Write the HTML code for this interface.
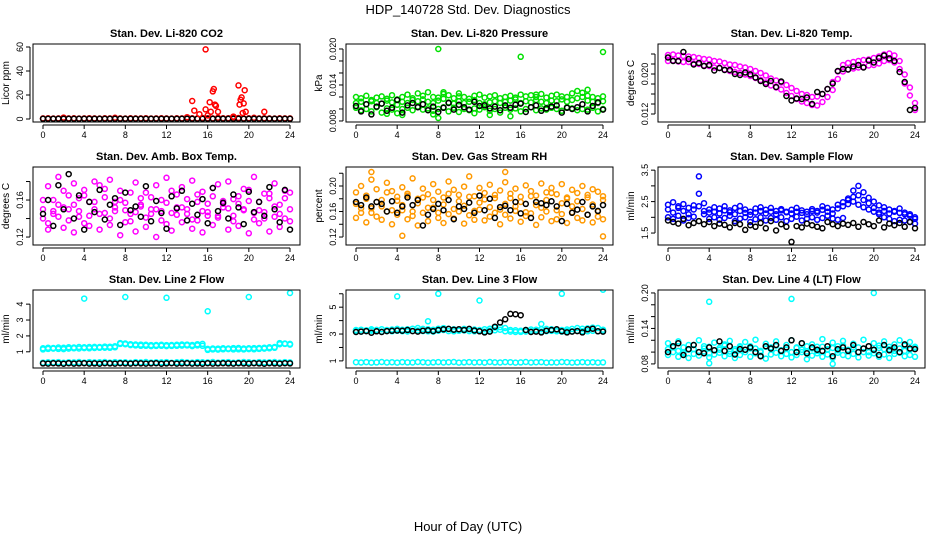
<!DOCTYPE html>
<html><head><meta charset="utf-8"><style>
html,body{margin:0;padding:0;background:#fff;width:936px;height:540px;overflow:hidden}
svg text{font-family:"Liberation Sans",sans-serif}
</style></head><body>
<svg id="chart" width="936" height="540" viewBox="0 0 936 540" xmlns="http://www.w3.org/2000/svg">
<text x="468" y="14" font-size="13" text-anchor="middle">HDP_140728  Std. Dev. Diagnostics</text>
<text x="468" y="531" font-size="13" text-anchor="middle">Hour of Day (UTC)</text>
</svg>
<script>
// ---- data (values at half-hour steps, 0..24 h) ----
const xTicks = [0,4,8,12,16,20,24];
// CO2 (ppm)
const co2Red = [0.5,0.6,0.4,0.5,1.2,0.5,0.6,0.4,0.5,0.7,0.5,0.4,0.6,0.5,1.0,0.5,0.4,0.6,0.5,0.5,0.7,0.4,0.5,0.6,0.5,0.4,0.6,0.5,1.5,0.6,0.5,0.8,0.6,0.5,1.0,0.6,0.7,1.2,0.8,0.5,0.6,1.0,0.5,0.6,0.5,0.4,0.6,0.5,0.5];
const co2Black = [0.2,0.2,0.2,0.2,0.2,0.2,0.2,0.2,0.2,0.2,0.2,0.2,0.2,0.2,0.2,0.2,0.2,0.2,0.2,0.2,0.2,0.2,0.2,0.2,0.2,0.2,0.2,0.2,0.2,0.2,0.2,0.2,0.2,0.2,0.2,0.2,0.2,0.2,0.2,0.2,0.2,0.2,0.2,0.2,0.2,0.2,0.2,0.2,0.2];
const co2SpikeX = [14.5,14.7,15.2,15.8,15.8,16.2,16.3,16.5,16.6,16.7,16.8,17.0,19.0,19.1,19.2,19.3,19.4,19.5,19.6,19.7,21.5,18.5,16.0];
const co2SpikeY = [15,7,4,58,8,14,6,23,25,12,11,6,28,12,16,18,5,13,24,6,6,2,3];
// Pressure (x1e-3 kPa)
const presA = [11.0,11.2,10.8,11.3,11.0,10.9,11.4,11.1,10.7,11.2,11.0,11.5,11.3,11.6,11.2,11.0,11.4,11.7,11.1,10.9,11.3,11.0,11.2,11.5,11.0,10.8,11.1,11.3,11.0,11.2,11.4,11.6,11.0,11.3,11.1,11.5,11.2,11.0,11.4,11.3,11.6,11.2,11.5,11.8,12.0,11.4,11.2,11.0,11.3];
const presB = [10.2,9.8,10.0,9.6,10.3,9.4,10.1,9.9,9.3,10.0,10.2,9.8,10.4,9.9,10.1,9.7,10.0,10.3,9.6,10.2,9.5,10.0,9.8,10.1,9.9,10.3,9.7,10.0,9.4,10.2,9.9,10.1,9.6,10.0,10.3,9.8,10.1,9.9,10.2,10.0,9.7,10.3,10.1,9.8,10.0,9.9,10.2,9.6,10.0];
const presC = [12.0,11.8,12.2,11.5,11.9,12.1,11.7,12.3,11.6,12.0,12.4,11.8,12.6,12.2,12.8,12.0,11.9,12.5,12.3,11.8,12.1,12.0,11.7,12.2,12.4,11.9,12.1,12.3,11.8,12.0,12.2,11.9,12.4,12.1,12.3,12.0,12.5,11.9,12.2,12.4,12.1,12.0,12.6,13.0,12.7,12.2,12.0,11.8,12.1];
const presK = [10.5,9.6,10.8,9.1,10.4,10.9,9.7,10.2,11.5,9.4,10.6,11.0,10.3,10.8,9.8,10.4,9.5,10.2,11.0,9.9,10.7,10.3,9.9,11.2,10.5,10.6,10.1,10.4,9.8,10.6,10.2,10.7,10.9,9.5,10.3,10.6,9.7,10.1,10.4,10.6,9.4,10.2,10.0,10.3,10.8,9.6,10.5,11.1,9.9];
const presOutX = [8,16,24,4.5,8,13,15,11.5,3,7.5,8.5,10,17.5,22.5];
const presOutY = [20.0,18.7,19.5,9.0,8.5,9.0,8.8,9.3,9.2,9.1,12.8,12.6,12.4,13.2];
// Li-820 temp (x1e-3 C)
const tempA = [23.8,23.9,23.7,23.6,23.5,23.4,23.2,23.0,22.9,22.6,22.5,22.2,21.9,21.8,21.5,21.3,21.0,20.6,20.2,19.7,19.1,18.7,18.3,17.8,17.2,16.6,16.0,15.8,15.4,15.5,16.0,17.0,18.4,20.5,21.8,22.2,22.4,22.6,22.8,22.9,23.2,23.5,23.9,24.1,23.7,22.6,19.9,17.3,14.2];
const tempB = [22.6,22.7,22.5,22.4,22.4,22.1,22.0,21.7,21.6,21.3,21.2,20.9,20.6,20.4,20.2,19.9,19.6,19.2,18.8,18.3,17.7,17.3,16.9,16.2,15.6,15.0,14.5,14.2,13.8,13.7,14.4,15.4,16.8,19.0,20.5,20.9,21.1,21.3,21.4,21.7,21.8,22.1,22.6,22.8,22.3,21.0,18.1,15.7,12.8];
const tempK = [23.3,22.6,22.6,24.4,23.0,21.9,22.2,21.6,21.8,20.7,21.2,20.8,20.8,20.0,19.8,20.3,19.9,19.3,18.6,18.0,18.6,17.4,18.5,15.6,14.7,15.1,15.0,15.3,14.0,16.4,16.0,17.0,18.1,20.6,21.0,20.9,21.5,21.8,21.3,22.7,22.3,23.2,23.7,23.1,22.6,20.4,18.4,12.8,13.2];
// Amb box temp (x1e-3 C)
const ambA = [150,135,160,142,170,138,155,148,165,132,158,145,172,140,152,160,136,168,147,155,141,163,150,138,157,170,144,152,161,139,166,148,156,173,143,159,151,137,164,149,171,146,158,140,167,153,145,162,150];
const ambB = [140,128,145,155,130,150,125,162,135,143,180,128,146,133,158,122,149,137,126,153,131,145,120,148,134,127,152,136,145,129,138,125,147,133,141,156,128,143,132,150,124,139,135,147,126,142,131,140,137];
const ambC = [160,175,148,185,152,165,178,142,171,158,150,176,163,182,148,170,157,145,179,162,168,150,176,160,184,146,166,174,150,181,158,169,143,164,177,152,180,161,156,172,159,185,149,167,162,178,155,170,168];
const ambK = [145,160,132,176,150,188,140,165,128,158,147,171,139,155,162,133,168,149,153,142,175,137,159,146,129,164,151,170,138,156,144,161,135,173,148,157,140,166,152,134,169,147,158,143,174,150,136,171,128];
// Gas stream RH (x1e-3 percent)
const rhA = [172,165,180,158,175,168,190,162,177,170,185,160,173,182,166,178,158,171,188,164,176,169,183,161,174,179,167,186,163,172,181,168,175,159,184,170,166,178,189,162,173,180,168,176,164,182,171,160,178];
const rhB = [150,158,143,165,152,147,160,140,155,162,148,153,138,158,145,166,150,142,156,149,160,141,154,147,163,146,152,158,140,155,149,161,144,153,157,139,151,160,145,148,156,142,159,150,146,155,143,152,148];
const rhC = [190,200,185,210,195,178,205,192,183,198,188,212,180,196,187,203,191,182,207,194,186,199,215,184,197,189,202,181,193,206,188,196,183,201,192,185,204,190,197,187,203,182,194,189,200,186,195,191,184];
const rhK = [175,170,182,168,175,172,160,176,158,168,182,170,178,138,155,164,172,162,178,148,168,164,174,158,185,162,180,150,167,169,162,175,157,172,150,175,173,170,176,168,145,172,158,163,175,155,168,161,170];
const rhOutX = [4.5,24,1.5,14.5];
const rhOutY = [122,121,222,222];
// Sample flow (x0.01 ml/min)
const sfA = [225,215,230,220,210,225,235,220,215,218,212,222,216,210,220,214,208,215,220,212,218,210,222,216,212,218,214,210,220,215,224,218,212,228,235,242,250,240,232,225,218,215,220,212,218,214,210,205,200];
const sfB = [200,195,205,190,198,202,275,210,195,200,192,198,205,188,196,200,185,194,200,190,198,192,200,188,195,202,190,196,200,192,198,205,196,192,198,260,285,270,255,245,230,210,200,195,188,192,190,185,180];
const sfC = [240,248,235,242,230,238,330,245,225,232,228,235,222,230,236,225,218,228,232,224,230,220,226,218,224,230,222,218,226,220,235,230,225,240,248,255,265,300,280,262,250,238,232,225,220,228,215,210,195];
const sfK = [190,185,180,195,175,182,188,178,185,172,180,176,168,182,178,160,175,170,182,165,188,158,178,170,122,172,168,180,175,170,165,185,178,172,180,176,182,170,185,178,172,190,168,180,175,182,170,185,165];
// Line 2 flow (x0.01 ml/min)
const l2A = [115,118,120,118,117,120,122,121,123,122,124,125,126,125,128,150,148,142,140,138,138,136,137,138,136,137,138,139,140,136,140,138,112,115,114,116,117,115,116,115,117,116,118,120,122,125,148,150,145];
const l2B = [122,126,124,127,125,128,127,130,128,130,131,130,133,132,135,155,152,148,146,145,144,142,143,144,142,143,144,146,145,143,148,150,118,121,120,122,121,123,124,121,122,123,124,126,128,130,155,152,150];
const l2Low = [32,34,33,35,31,34,33,36,32,35,33,34,36,32,35,33,34,31,35,33,36,32,34,33,35,31,34,36,33,32,35,34,33,36,32,34,35,31,33,36,34,32,35,33,34,36,32,35,33];
const l2K = [27,26,28,27,25,28,26,27,28,26,27,25,28,27,26,28,27,26,28,27,26,27,28,25,27,28,26,27,28,26,27,25,28,26,27,28,27,26,28,27,26,28,27,25,28,27,26,28,27];
const l2OutX = [4,8,12,16,20,24];
const l2OutY = [435,445,440,355,445,470];
// Line 3 flow (x0.01 ml/min)
const l3A = [320,318,322,325,320,318,322,320,324,321,319,323,326,322,320,318,325,330,322,320,324,326,322,320,323,318,325,328,332,320,318,315,316,318,320,322,318,321,323,320,318,322,320,325,322,320,324,321,320];
const l3B = [330,332,328,335,331,336,330,334,338,332,335,340,345,338,336,332,340,344,338,335,332,338,336,334,330,336,340,348,352,345,330,328,325,330,334,332,336,338,335,332,330,334,338,345,340,342,348,345,332];
const l3Low = [90,88,91,87,89,92,88,90,87,91,89,88,92,90,87,89,91,88,90,92,87,89,91,88,90,87,92,89,88,91,90,87,89,92,88,90,91,87,89,88,92,90,87,89,91,88,90,87,89];
const l3K = [315,318,322,310,320,315,322,324,326,325,330,322,318,325,328,322,330,335,338,332,336,330,338,326,320,312,318,355,386,410,450,448,440,330,315,318,312,325,330,335,320,312,318,322,312,335,340,320,318];
const l3OutX = [4,8,12,20,24,7,18];
const l3OutY = [580,600,550,600,630,395,375];
// Line 4 (LT) flow (x1e-3 ml/min)
const l4A = [115,108,118,100,112,105,120,110,98,116,104,113,119,102,110,117,106,121,100,114,108,118,103,112,120,107,115,101,113,109,122,104,116,110,119,103,114,108,121,100,115,111,118,105,113,120,102,117,109];
const l4B = [95,100,92,98,90,97,94,101,91,96,99,93,97,90,95,100,92,98,94,89,96,99,93,97,91,95,100,88,94,98,92,96,90,99,95,93,97,91,100,94,98,92,96,90,97,99,93,95,92];
const l4C = [105,110,102,108,104,112,100,106,109,103,107,111,101,105,108,104,110,106,102,109,105,111,103,107,100,108,104,110,106,102,109,105,107,103,111,104,108,100,106,110,103,107,105,109,102,106,111,104,107];
const l4K = [100,110,115,95,105,112,100,98,108,103,118,102,110,96,105,104,108,100,93,110,106,112,102,108,120,100,115,98,108,104,102,110,93,105,108,102,112,100,106,110,104,95,112,103,108,100,113,106,105];
const l4OutX = [4,12,20,4,16];
const l4OutY = [185,190,200,81,80];

// tick values & labels
const co2Ticks=[0,20,40,60], co2Labels=["0","20","40","60"];
const presTicks=[8,10,12,14,16,18,20], presLabels=["0.008","","","0.014","","","0.020"];
const tempTicks=[12,14,16,18,20,22,24], tempLabels=["0.012","","","","0.020","",""];
const ambTicks=[120,140,160,180], ambLabels=["0.12","","0.16",""];
const rhTicks=[120,140,160,180,200,220], rhLabels=["0.12","","0.16","","0.20",""];
const sfTicks=[150,200,250,300,350], sfLabels=["1.5","","2.5","","3.5"];
const l2Ticks=[100,200,300,400], l2Labels=["1","2","3","4"];
const l3Ticks=[100,200,300,400,500,600], l3Labels=["1","","3","","5",""];
const l4Ticks=[80,100,120,140,160,180,200], l4Labels=["0.08","","","0.14","","","0.20"];

const svg=document.getElementById('chart');
const NS='http://www.w3.org/2000/svg';
const colL=[33,346,658], rowT=[44,167,290], W=267, H=78;
function mk(tag,attrs,parent){const e=document.createElementNS(NS,tag);for(const k in attrs)e.setAttribute(k,attrs[k]);(parent||svg).appendChild(e);return e;}

function panel(cfg){
  const L=colL[cfg.c], T=rowT[cfg.r], B=T+H;
  const g=mk('g',{});
  
  
  const xs=h=>L+10+h*(247/24);
  const ys=v=>B-(v-cfg.lo)/(cfg.hi-cfg.lo)*H;
  const title=mk('text',{x:L+W/2,y:T-7,'font-size':11,'font-weight':'bold','text-anchor':'middle'},g);
  title.textContent=cfg.title;
  
  
  const yl=mk('text',{x:0,y:0,'font-size':10,'text-anchor':'middle',transform:`translate(${L-24},${T+H/2}) rotate(-90)`},g);
  yl.textContent=cfg.ylab;
  
  
  const cid='clip'+cfg.r+cfg.c;
  const cp=mk('clipPath',{id:cid},g); mk('rect',{x:L,y:T,width:W,height:H},cp);
  const pg=mk('g',{'clip-path':`url(#${cid})`},g);
  function pts(xArr,vals,color,nm){
    for(let i=0;i<vals.length;i++){
      const hx=xArr?xArr[i]:i*0.5;
      const c=mk('circle',{cx:xs(hx).toFixed(1),cy:ys(vals[i]).toFixed(1),r:2.5,fill:'none',stroke:color,'stroke-width':1.5},pg);
      
      
    }
  }
  cfg.series.forEach(s=>pts(s.x,s.v,s.col,s.nm));
  const bx=mk('rect',{x:L,y:T,width:W,height:H,fill:'none',stroke:'#000','stroke-width':1},g);
  
  
  mk('line',{x1:xs(0),x2:xs(24),y1:B+3,y2:B+3,stroke:'#000'},g);
  xTicks.forEach(t=>{
    mk('line',{x1:xs(t),x2:xs(t),y1:B+3,y2:B+7,stroke:'#000'},g);
    const tl=mk('text',{x:xs(t),y:B+16,'font-size':9,'text-anchor':'middle'},g);
    tl.textContent=t;
    
    
  });
  const tv=cfg.ticks;
  mk('line',{x1:L-3,x2:L-3,y1:ys(tv[0]),y2:ys(tv[tv.length-1]),stroke:'#000'},g);
  tv.forEach((t,i)=>{
    mk('line',{x1:L-7,x2:L-3,y1:ys(t),y2:ys(t),stroke:'#000'},g);
    if(cfg.labels[i]){
      const tl=mk('text',{x:0,y:0,'font-size':9,'text-anchor':'middle',transform:`translate(${L-10},${ys(t)}) rotate(-90)`},g);
      tl.textContent=cfg.labels[i];
      
      
    }
  });
}
const K='#000', RED='#ff0000', GRN='#00e000', MAG='#ff00ff', ORG='#ff9900', BLU='#0000ff', CYA='#00ffff';
panel({name:'co2-panel',r:0,c:0,title:'Stan. Dev. Li-820 CO2',ylab:'Licor ppm',lo:-2.5,hi:62.5,ticks:co2Ticks,labels:co2Labels,
 series:[{v:co2Red,col:RED,nm:'co2-point'},{v:co2Black,col:K,nm:'co2-black-point'},{x:co2SpikeX,v:co2SpikeY,col:RED,nm:'co2-spike'}]});
panel({name:'pressure-panel',r:0,c:1,title:'Stan. Dev. Li-820 Pressure',ylab:'kPa',lo:7.83,hi:20.83,ticks:presTicks,labels:presLabels,
 series:[{v:presA,col:GRN,nm:'pressure-point'},{v:presB,col:GRN,nm:'pressure-point'},{v:presC,col:GRN,nm:'pressure-point'},{x:presOutX,v:presOutY,col:GRN,nm:'pressure-outlier'},{v:presK,col:K,nm:'pressure-black-point'}]});
panel({name:'temp-panel',r:0,c:2,title:'Stan. Dev. Li-820 Temp.',ylab:'degrees C',lo:10.4,hi:26,ticks:tempTicks,labels:tempLabels,
 series:[{v:tempA,col:MAG,nm:'temp-point'},{v:tempB,col:MAG,nm:'temp-point'},{v:tempK,col:K,nm:'temp-black-point'}]});
panel({name:'amb-temp-panel',r:1,c:0,title:'Stan. Dev. Amb. Box Temp.',ylab:'degrees C',lo:111.4,hi:195.7,ticks:ambTicks,labels:ambLabels,
 series:[{v:ambA,col:MAG,nm:'amb-point'},{v:ambB,col:MAG,nm:'amb-point'},{v:ambC,col:MAG,nm:'amb-point'},{v:ambK,col:K,nm:'amb-black-point'}]});
panel({name:'rh-panel',r:1,c:1,title:'Stan. Dev. Gas Stream RH',ylab:'percent',lo:107.5,hi:229.8,ticks:rhTicks,labels:rhLabels,
 series:[{v:rhA,col:ORG,nm:'rh-point'},{v:rhB,col:ORG,nm:'rh-point'},{v:rhC,col:ORG,nm:'rh-point'},{x:rhOutX,v:rhOutY,col:ORG,nm:'rh-outlier'},{v:rhK,col:K,nm:'rh-black-point'}]});
panel({name:'sample-flow-panel',r:1,c:2,title:'Stan. Dev. Sample Flow',ylab:'ml/min',lo:112,hi:360,ticks:sfTicks,labels:sfLabels,
 series:[{v:sfA,col:BLU,nm:'sample-flow-point'},{v:sfB,col:BLU,nm:'sample-flow-point'},{v:sfC,col:BLU,nm:'sample-flow-point'},{v:sfK,col:K,nm:'sample-flow-black-point'}]});
panel({name:'line2-panel',r:2,c:0,title:'Stan. Dev. Line 2 Flow',ylab:'ml/min',lo:-2,hi:489,ticks:l2Ticks,labels:l2Labels,
 series:[{v:l2A,col:CYA,nm:'line2-point'},{v:l2B,col:CYA,nm:'line2-point'},{v:l2Low,col:CYA,nm:'line2-low-point'},{x:l2OutX,v:l2OutY,col:CYA,nm:'line2-outlier'},{v:l2K,col:K,nm:'line2-black-point'}]});
panel({name:'line3-panel',r:2,c:1,title:'Stan. Dev. Line 3 Flow',ylab:'ml/min',lo:47,hi:628,ticks:l3Ticks,labels:l3Labels,
 series:[{v:l3A,col:CYA,nm:'line3-point'},{v:l3B,col:CYA,nm:'line3-point'},{v:l3Low,col:CYA,nm:'line3-low-point'},{x:l3OutX,v:l3OutY,col:CYA,nm:'line3-outlier'},{v:l3K,col:K,nm:'line3-black-point'}]});
panel({name:'line4-panel',r:2,c:2,title:'Stan. Dev. Line 4 (LT) Flow',ylab:'ml/min',lo:73.1,hi:205,ticks:l4Ticks,labels:l4Labels,
 series:[{v:l4A,col:CYA,nm:'line4-point'},{v:l4B,col:CYA,nm:'line4-point'},{v:l4C,col:CYA,nm:'line4-point'},{x:l4OutX,v:l4OutY,col:CYA,nm:'line4-outlier'},{v:l4K,col:K,nm:'line4-black-point'}]});
</script>
</body></html>
